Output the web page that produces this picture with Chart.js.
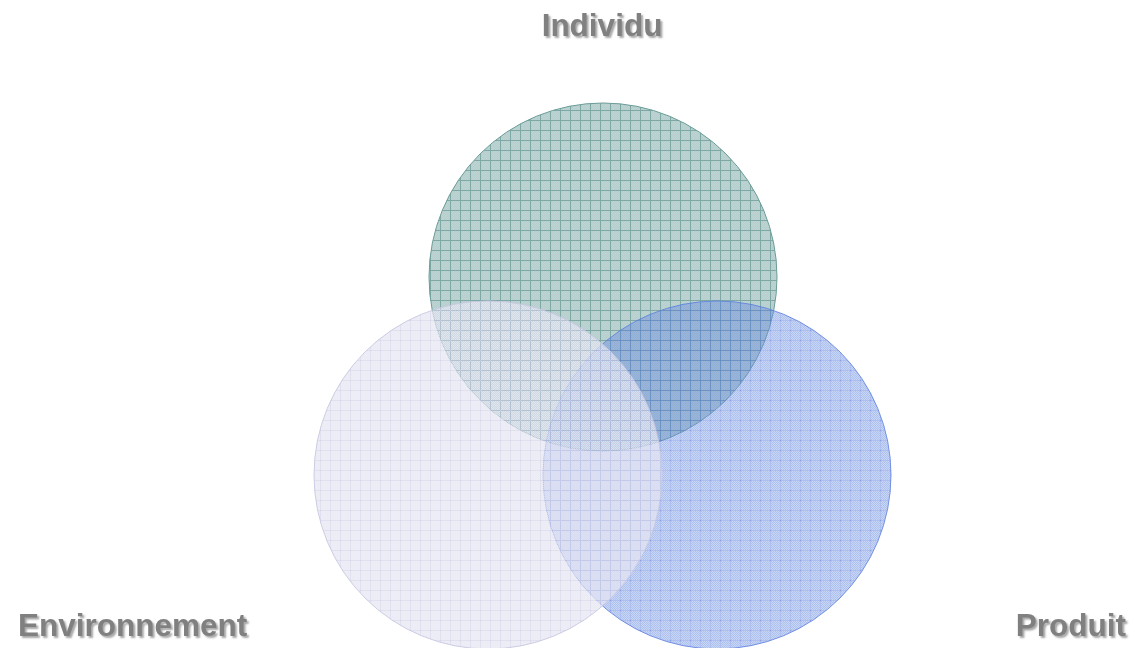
<!DOCTYPE html>
<html>
<head>
<meta charset="utf-8">
<script src="https://cdn.jsdelivr.net/npm/chart.js@4.4.1/dist/chart.umd.min.js"></script>
<style>
  html, body { margin: 0; padding: 0; background: #fff; }
  #wrap { width: 1135px; height: 648px; position: relative; }
</style>
</head>
<body>
<div id="wrap"><canvas id="venn"></canvas></div>
<script>
'use strict';

// Ensembles du diagramme (centre x, centre y, rayon en px)
const ENSEMBLES = ['Individu', 'Produit', 'Environnement'];
const CENTRES_X = [603, 717, 488];
const CENTRES_Y = [277, 475, 475];
const RAYONS    = [174, 174, 174];

// titres autour du diagramme
const TITRES = [
  { texte: 'Individu',      x: 602,  y: 36,  align: 'center' },
  { texte: 'Environnement', x: 18,   y: 636, align: 'left'   },
  { texte: 'Produit',       x: 1126, y: 636, align: 'right'  },
];

// tuile de quadrillage : fond, tramage, lignes
function motif(fond, trame, ligne) {
  const c = document.createElement('canvas');
  c.width = 10; c.height = 10;
  const g = c.getContext('2d');
  g.fillStyle = fond;
  g.fillRect(0, 0, 10, 10);
  g.fillStyle = trame;
  for (let y = 0; y < 10; y++) {
    for (let x = (y % 2); x < 10; x += 2) g.fillRect(x, y, 1, 1);
  }
  g.clearRect(0, 0, 10, 1);
  g.clearRect(0, 0, 1, 10);
  g.fillStyle = ligne;
  g.fillRect(0, 0, 10, 1);
  g.fillRect(0, 0, 1, 10);
  return g.createPattern(c, 'repeat');
}

const styles = [
  { fond: motif('rgb(182,206,205)', 'rgb(190,212,211)', 'rgb(125,168,164)'), bord: '#6a9c98', ordre: 2 },
  { fond: motif('rgba(105,140,224,0.37)', 'rgba(118,152,228,0.32)', 'rgba(92,126,224,0.5)'), bord: 'rgba(90,125,222,0.8)', ordre: 1 },
  { fond: motif('rgba(226,226,240,0.6)', 'rgba(232,232,244,0.56)', 'rgba(208,208,230,0.66)'), bord: 'rgba(200,200,225,0.9)', ordre: 0 },
];

const titresPlugin = {
  id: 'titres',
  afterDraw(chart) {
    const ctx = chart.ctx;
    ctx.save();
    ctx.font = 'bold 31.5px "Liberation Sans", Arial, sans-serif';
    ctx.textBaseline = 'alphabetic';
    ctx.fillStyle = '#808080';
    ctx.shadowColor = 'rgba(0,0,0,0.35)';
    ctx.shadowOffsetX = 2;
    ctx.shadowOffsetY = 2;
    ctx.shadowBlur = 2;
    TITRES.forEach(t => {
      ctx.textAlign = t.align;
      ctx.fillText(t.texte, t.x, t.y);
    });
    ctx.restore();
  }
};

new Chart(document.getElementById('venn'), {
  type: 'bubble',
  data: {
    datasets: ENSEMBLES.map((nom, i) => ({
      label: nom,
      data: [{ x: CENTRES_X[i], y: CENTRES_Y[i], r: RAYONS[i] }],
      backgroundColor: styles[i].fond,
      borderColor: styles[i].bord,
      borderWidth: 1,
      hoverRadius: 0,
      order: styles[i].ordre,
    }))
  },
  options: {
    responsive: true,
    maintainAspectRatio: false,
    animation: false,
    layout: { padding: 0, autoPadding: false },
    plugins: { legend: { display: false }, tooltip: { enabled: false } },
    scales: {
      x: { type: 'linear', min: 0, max: 1135, display: false },
      y: { type: 'linear', min: 0, max: 648, reverse: true, display: false }
    },
    clip: false
  },
  plugins: [titresPlugin]
});
</script>
</body>
</html>
